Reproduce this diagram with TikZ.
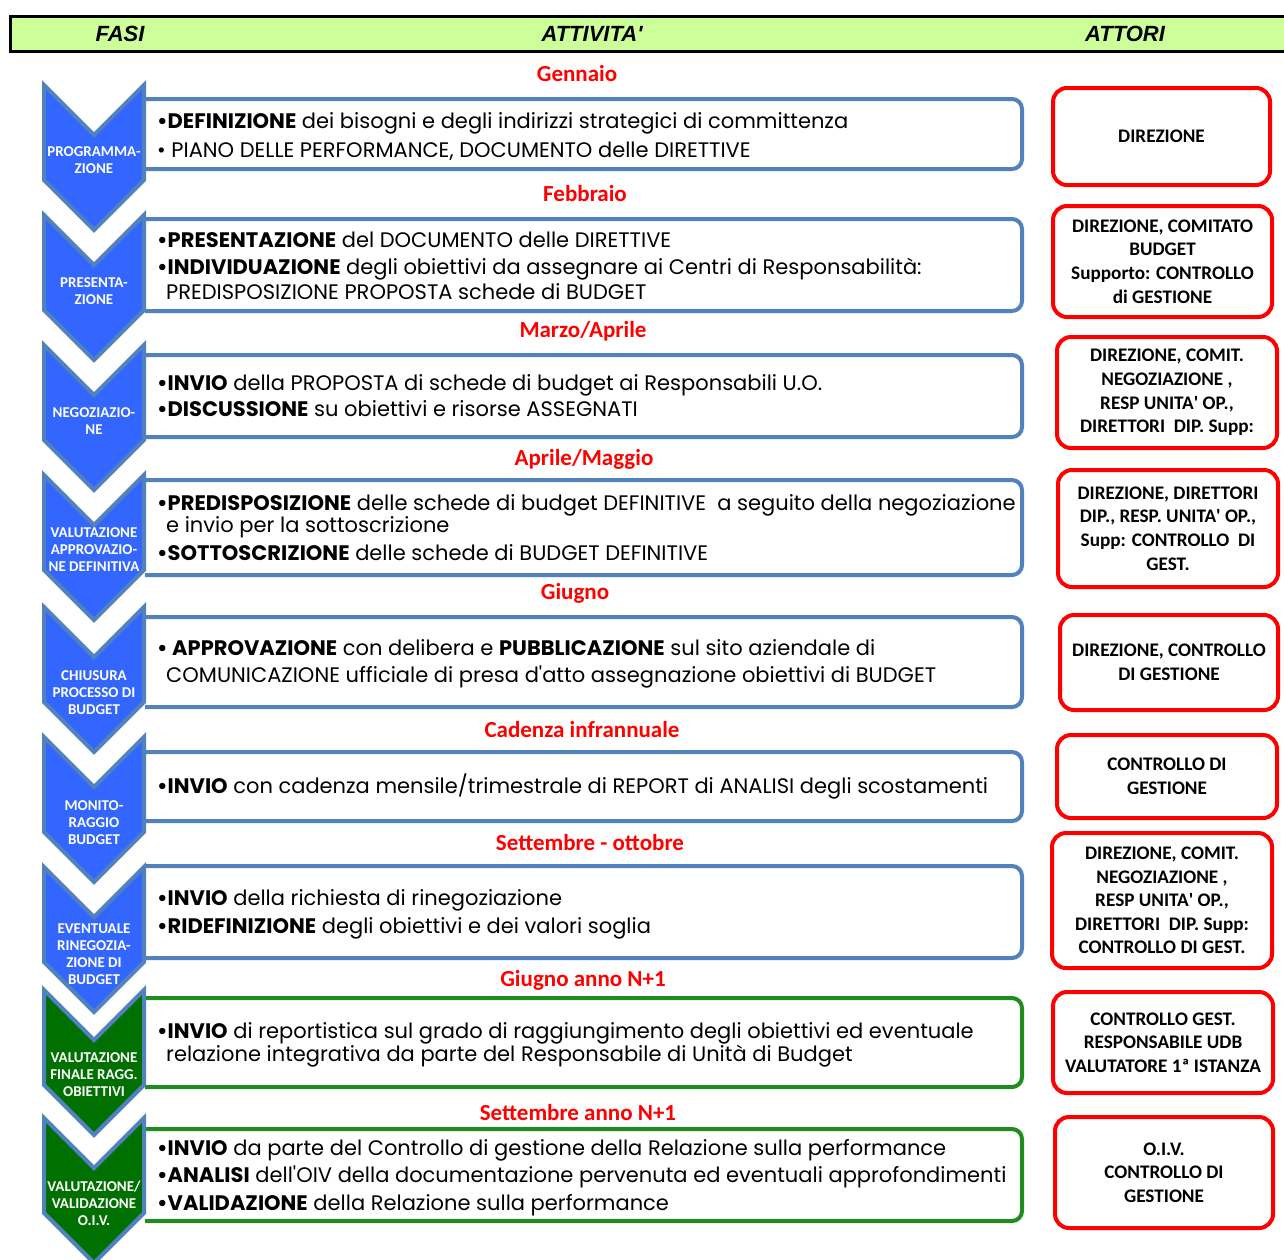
\documentclass[tikz,border=0pt]{standalone}
\usepackage{fontspec}
\setmainfont{Carlito}
\newfontfamily\gothic{Poppins}
\newfontfamily\arialbi{Liberation Sans}
\usetikzlibrary{positioning}
\definecolor{headgreen}{HTML}{CCFF99}
\definecolor{chevblue}{HTML}{3366FF}
\definecolor{chevgreen}{HTML}{007000}
\definecolor{edgeblue}{HTML}{5282BE}
\definecolor{boxgreen}{HTML}{1E8C1E}
\definecolor{mesered}{HTML}{FF0000}

\begin{document}
\begin{tikzpicture}[x=1pt,y=-1pt,
  testa/.style={font=\arialbi\bfseries\itshape\fontsize{22}{24}\selectfont,inner sep=0pt},
  fasetxt/.style={text=white,font=\bfseries\fontsize{15}{17}\selectfont,align=center,inner sep=0pt},
  att/.style={anchor=base west,inner sep=0pt,font=\gothic\fontsize{21}{24}\selectfont},
  mese/.style={text=mesered,font=\bfseries\fontsize{23}{26}\selectfont,inner sep=0pt},
  attore/.style={draw=mesered,line width=4pt,rounded corners=14pt,fill=white,align=center,
    font=\bfseries\fontsize{19.2}{23.6}\selectfont,inner sep=0pt}]
\useasboundingbox (0,0) rectangle (1284,1259);
\clip (0,0) rectangle (1284,1259);

% intestazione
\draw[line width=3pt,fill=headgreen] (10,16) rectangle (1300,51);
\node[testa] (fasi) at (120,34) {FASI};
\node[testa] (attivita) at (592,34) {ATTIVITA\textquotesingle};
\node[testa] (attori) at (1125,34) {ATTORI};

% riquadri attivita
\foreach \a/\b/\c in {99/169/edgeblue,219/311/edgeblue,355/437/edgeblue,480/575/edgeblue,
  617/707/edgeblue,752/821/edgeblue,866/958/edgeblue,998/1087/boxgreen,1129/1221/boxgreen}{
\draw[line width=4pt,draw=\c,fill=white,rounded corners=10pt] (145,\a) -- (1022,\a) -- (1022,\b) -- (145,\b);}

% frecce delle fasi
\foreach \t/\c/\l/\y [count=\i] in {85/chevblue/{PROGRAMMA-\\ZIONE}/160,
  215/chevblue/{PRESENTA-\\ZIONE}/291,
  345/chevblue/{NEGOZIAZIO-\\NE}/421,
  475/chevblue/{VALUTAZIONE\\APPROVAZIO-\\NE DEFINITIVA}/550,
  607/chevblue/{CHIUSURA\\PROCESSO DI\\BUDGET}/693,
  737/chevblue/{MONITO-\\RAGGIO\\BUDGET}/823,
  867/chevblue/{EVENTUALE\\RINEGOZIA-\\ZIONE DI\\BUDGET}/954,
  990/chevgreen/{VALUTAZIONE\\FINALE  RAGG.\\OBIETTIVI}/1075,
  1118/chevgreen/{VALUTAZIONE/\\VALIDAZIONE\\O.I.V.}/1203}{
\draw[line width=4pt,draw=edgeblue,fill=\c,line join=miter]
  (44,\t) -- (94,\t+50) -- (144,\t) -- (144,\t+95) -- (94,\t+145) -- (44,\t+95) -- cycle;
\node[fasetxt] (fase\i) at (94,\y) {\l};}

% mesi
\foreach \x/\y/\m [count=\i] in {577/74/Gennaio,585/194/Febbraio,583/331/{Marzo/Aprile},
  584/459/{Aprile/Maggio},575/593/Giugno,582/730/Cadenza infrannuale,
  590/842/Settembre - ottobre,583/980/Giugno anno N+1,578/1112/Settembre anno N+1}{
\node[mese] (mese\i) at (\x,\y) {\m};}

% attivita
\node[att] (att1a) at (157,128) {\textbf{•DEFINIZIONE} dei bisogni e degli indirizzi strategici di committenza};
\node[att] (att1b) at (157,157) {• PIANO DELLE PERFORMANCE, DOCUMENTO delle DIRETTIVE};
\node[att] (att2a) at (157,247) {\textbf{•PRESENTAZIONE} del DOCUMENTO delle DIRETTIVE};
\node[att] (att2b) at (157,274) {\textbf{•INDIVIDUAZIONE} degli obiettivi da assegnare ai Centri di Responsabilità:};
\node[att] (att2c) at (166,299) {PREDISPOSIZIONE PROPOSTA schede di BUDGET};
\node[att] (att3a) at (157,390) {\textbf{•INVIO} della PROPOSTA di schede di budget ai Responsabili U.O.};
\node[att] (att3b) at (157,416) {\textbf{•DISCUSSIONE} su obiettivi e risorse ASSEGNATI};
\node[att] (att4a) at (157,510) {\textbf{•PREDISPOSIZIONE} delle schede di budget DEFINITIVE \ a seguito della negoziazione};
\node[att] (att4b) at (166,532) {e invio per la sottoscrizione};
\node[att] (att4c) at (157,560) {\textbf{•SOTTOSCRIZIONE} delle schede di BUDGET DEFINITIVE};
\node[att] (att5a) at (157,655) {\textbf{• APPROVAZIONE} con delibera e \textbf{PUBBLICAZIONE} sul sito aziendale di};
\node[att] (att5b) at (166,682) {COMUNICAZIONE ufficiale di presa d'atto assegnazione obiettivi di BUDGET};
\node[att] (att6a) at (157,793) {\textbf{•INVIO} con cadenza mensile/trimestrale di REPORT di ANALISI degli scostamenti};
\node[att] (att7a) at (157,905) {\textbf{•INVIO} della richiesta di rinegoziazione};
\node[att] (att7b) at (157,933) {\textbf{•RIDEFINIZIONE} degli obiettivi e dei valori soglia};
\node[att] (att8a) at (157,1038) {\textbf{•INVIO} di reportistica sul grado di raggiungimento degli obiettivi ed eventuale};
\node[att] (att8b) at (166,1061) {relazione integrativa da parte del Responsabile di Unità di Budget};
\node[att] (att9a) at (157,1155) {\textbf{•INVIO} da parte del Controllo di gestione della Relazione sulla performance};
\node[att] (att9b) at (157,1182) {\textbf{•ANALISI} dell'OIV della documentazione pervenuta ed eventuali approfondimenti};
\node[att] (att9c) at (157,1210) {\textbf{•VALIDAZIONE} della Relazione sulla performance};

% attori
\node[attore,minimum width=217pt,minimum height=97pt] (attore1) at (1161.5,136.5) {DIREZIONE};
\node[attore,minimum width=219pt,minimum height=111pt] (attore2) at (1162.5,261.5)
  {DIREZIONE, COMITATO\\BUDGET\\Supporto: CONTROLLO\\di GESTIONE};
\node[attore,minimum width=220pt,minimum height=111pt] (attore3) at (1167,392.5)
  {DIREZIONE, COMIT.\\NEGOZIAZIONE ,\\RESP UNITA\textquotesingle\ OP.,\\DIRETTORI \ DIP. Supp:};
\node[attore,minimum width=220pt,minimum height=117pt] (attore4) at (1168,528.5)
  {DIREZIONE, DIRETTORI\\DIP., RESP. UNITA\textquotesingle\ OP.,\\Supp: CONTROLLO \ DI\\GEST.};
\node[attore,minimum width=218pt,minimum height=95pt] (attore5) at (1169,662.5)
  {DIREZIONE, CONTROLLO\\DI GESTIONE};
\node[attore,minimum width=220pt,minimum height=83pt] (attore6) at (1167,776.5)
  {CONTROLLO DI\\GESTIONE};
\node[attore,minimum width=220pt,minimum height=135pt] (attore7) at (1162,900.5)
  {DIREZIONE, COMIT.\\NEGOZIAZIONE ,\\RESP UNITA\textquotesingle\ OP.,\\DIRETTORI \ DIP. Supp:\\CONTROLLO DI GEST.};
\node[attore,minimum width=220pt,minimum height=101pt] (attore8) at (1163,1042.5)
  {CONTROLLO GEST.\\RESPONSABILE UDB\\VALUTATORE 1ª ISTANZA};
\node[attore,minimum width=218pt,minimum height=111pt] (attore9) at (1164,1172.5)
  {O.I.V.\\CONTROLLO DI\\GESTIONE};
\end{tikzpicture}
\end{document}
